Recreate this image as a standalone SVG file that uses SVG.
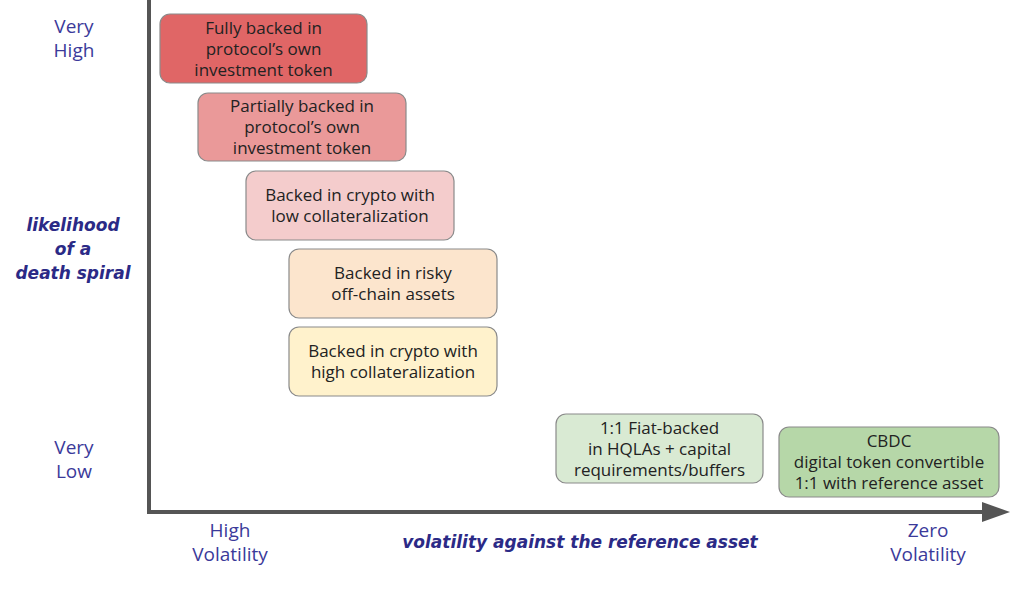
<svg xmlns="http://www.w3.org/2000/svg" width="1024" height="591" viewBox="0 0 1024 591">
<style>
.box{stroke:#8a8a8a;stroke-width:1.2}
.bt{font-family:"Open Sans","Liberation Sans",sans-serif;font-size:17px;fill:#222;text-anchor:middle}
.ax{font-family:"Open Sans","Liberation Sans",sans-serif;font-size:19px;fill:#3b3a9a;text-anchor:middle}
.axb{font-family:"DejaVu Sans","Liberation Sans",sans-serif;font-size:17px;font-weight:bold;font-style:italic;fill:#2b2a86;text-anchor:middle}
</style>
<defs>
<marker id="ah" markerWidth="7" markerHeight="5" refX="0" refY="2.5" orient="auto" markerUnits="strokeWidth">
<path d="M0,0 L7,2.5 L0,5 Z" fill="#555"/>
</marker>
</defs>
<rect width="1024" height="591" fill="#fff"/>
<g id="connectors">
<path d="M149,0 L149,512 L982,512" fill="none" stroke="#555" stroke-width="4" marker-end="url(#ah)"/>
</g>
<g id="axis-labels">
<text class="ax" x="74" y="33">Very</text>
<text class="ax" x="74" y="57">High</text>
<text class="axb" x="73" y="231">likelihood</text>
<text class="axb" x="73" y="255">of a</text>
<text class="axb" x="73" y="279">death spiral</text>
<text class="ax" x="74" y="454">Very</text>
<text class="ax" x="74" y="478">Low</text>
<text class="ax" x="230" y="537">High</text>
<text class="ax" x="230" y="561">Volatility</text>
<text class="axb" x="580" y="548">volatility against the reference asset</text>
<text class="ax" x="928" y="537">Zero</text>
<text class="ax" x="928" y="561">Volatility</text>
</g>
<g id="node1">
<rect class="box" x="160" y="14" width="207" height="69" rx="10" fill="#e06666"/>
<text class="bt" x="263.5" y="34">Fully backed in</text>
<text class="bt" x="263.5" y="55">protocol’s own</text>
<text class="bt" x="263.5" y="76">investment token</text>
</g>
<g id="node2">
<rect class="box" x="198" y="93" width="208" height="68" rx="10" fill="#ea9999"/>
<text class="bt" x="302" y="112">Partially backed in</text>
<text class="bt" x="302" y="133">protocol’s own</text>
<text class="bt" x="302" y="154">investment token</text>
</g>
<g id="node3">
<rect class="box" x="246" y="171" width="208" height="69" rx="10" fill="#f4cccc"/>
<text class="bt" x="350" y="201">Backed in crypto with</text>
<text class="bt" x="350" y="222">low collateralization</text>
</g>
<g id="node4">
<rect class="box" x="289" y="249" width="208" height="69" rx="10" fill="#fce5cd"/>
<text class="bt" x="393" y="279">Backed in risky</text>
<text class="bt" x="393" y="300">off-chain assets</text>
</g>
<g id="node5">
<rect class="box" x="289" y="327" width="208" height="69" rx="10" fill="#fff2cc"/>
<text class="bt" x="393" y="357">Backed in crypto with</text>
<text class="bt" x="393" y="378">high collateralization</text>
</g>
<g id="node6">
<rect class="box" x="556" y="414" width="207" height="69" rx="10" fill="#d9ead3"/>
<text class="bt" x="659.5" y="434">1:1 Fiat-backed</text>
<text class="bt" x="659.5" y="455">in HQLAs + capital</text>
<text class="bt" x="659.5" y="476">requirements/buffers</text>
</g>
<g id="node7">
<rect class="box" x="779" y="427" width="220" height="70" rx="10" fill="#b6d7a8"/>
<text class="bt" x="889" y="447">CBDC</text>
<text class="bt" x="889" y="468">digital token convertible</text>
<text class="bt" x="889" y="489">1:1 with reference asset</text>
</g>
</svg>
